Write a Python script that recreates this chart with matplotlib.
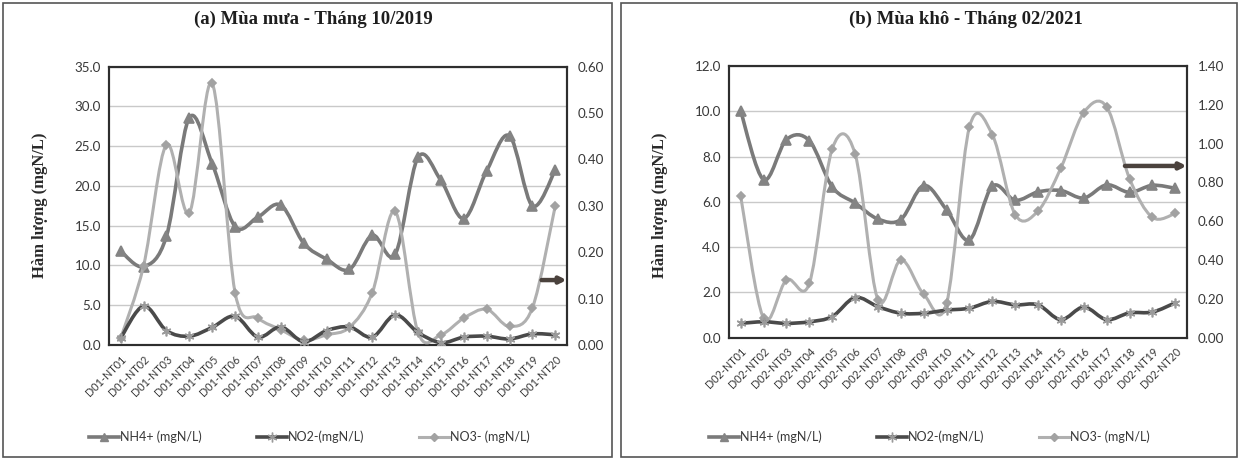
import matplotlib
matplotlib.use("Agg")
import matplotlib.pyplot as plt
from matplotlib.path import Path
from matplotlib.patches import PathPatch, Rectangle
from matplotlib.lines import Line2D
import numpy as np

# ---- data ----
stations_a = ["D01-NT%02d" % i for i in range(1, 21)]
stations_b = ["D02-NT%02d" % i for i in range(1, 21)]

# (a) rainy season, Oct 2019
nh4_a = [11.8, 9.85, 13.7, 28.6, 22.8, 14.9, 16.1, 17.6, 12.8, 10.8,
         9.5, 13.8, 11.4, 23.6, 20.7, 15.9, 21.9, 26.3, 17.5, 22.0]
no2_a = [0.015, 0.084, 0.031, 0.019, 0.038, 0.062, 0.017, 0.039, 0.007, 0.031,
         0.039, 0.017, 0.065, 0.027, 0.005, 0.017, 0.019, 0.013, 0.024, 0.022]
no3_a = [0.015, 0.171, 0.432, 0.285, 0.564, 0.113, 0.058, 0.033, 0.010, 0.022,
         0.038, 0.113, 0.288, 0.027, 0.022, 0.058, 0.077, 0.040, 0.080, 0.300]

# (b) dry season, Feb 2021
nh4_b = [10.0, 6.98, 8.75, 8.7, 6.66, 5.95, 5.24, 5.22, 6.72, 5.65,
         4.32, 6.69, 6.07, 6.44, 6.5, 6.17, 6.75, 6.42, 6.73, 6.6]
no2_b = [0.074, 0.082, 0.074, 0.082, 0.109, 0.207, 0.160, 0.126, 0.126, 0.142,
         0.152, 0.187, 0.169, 0.169, 0.093, 0.158, 0.093, 0.128, 0.132, 0.180]
no3_b = [0.728, 0.100, 0.298, 0.280, 0.973, 0.947, 0.195, 0.401, 0.224, 0.177,
         1.085, 1.047, 0.634, 0.653, 0.875, 1.160, 1.190, 0.820, 0.620, 0.640]

arrow_a = 0.14
arrow_b = 0.885

C_NH4 = "#7a7a7a"
C_NO2 = "#4a4a4a"
C_NO3 = "#b0b0b0"
TXT = "#383838"


def smooth_path(x, y):
    # excel-like smoothed line (catmull-rom as bezier)
    verts = [(x[0], y[0])]
    codes = [Path.MOVETO]
    n = len(x)
    for i in range(n - 1):
        x0, y0 = (x[i - 1], y[i - 1]) if i > 0 else (x[i], y[i])
        x3, y3 = (x[i + 2], y[i + 2]) if i + 2 < n else (x[i + 1], y[i + 1])
        c1 = (x[i] + (x[i + 1] - x0) / 6, y[i] + (y[i + 1] - y0) / 6)
        c2 = (x[i + 1] - (x3 - x[i]) / 6, y[i + 1] - (y3 - y[i]) / 6)
        verts += [c1, c2, (x[i + 1], y[i + 1])]
        codes += [Path.CURVE4] * 3
    return Path(verts, codes)


def series(ax, y, color, lw, marker, ms, mcolor, z):
    x = np.arange(len(y))
    ax.add_patch(PathPatch(smooth_path(x, y), fill=False, edgecolor=color,
                           lw=lw, zorder=z, capstyle="round", joinstyle="round"))
    ax.plot(x, y, linestyle="none", marker=marker, ms=ms, color=mcolor,
            mec=mcolor, mew=1.2, zorder=z + 0.1)


plt.rcParams["font.family"] = ["Lato", "DejaVu Sans"]
fig = plt.figure(figsize=(12.4, 4.62), dpi=100)

W, H = 1240.0, 462.0
panels = [
    dict(rect=(109.3, 66.7, 566.7, 345.0), labels=stations_a, nh4=nh4_a, no2=no2_a,
         no3=no3_a, lmax=35.0, lstep=5.0, rmax=0.60, rstep=0.10,
         title="(a) Mùa mưa - Tháng 10/2019", tx=313, ylx=40, arrow=arrow_a, ax0=18.4,
         border=(3, 3, 612, 457), legx=[89, 257, 419]),
    dict(rect=(729.3, 66.0, 1186.7, 337.7), labels=stations_b, nh4=nh4_b, no2=no2_b,
         no3=no3_b, lmax=12.0, lstep=2.0, rmax=1.40, rstep=0.20,
         title="(b) Mùa khô - Tháng 02/2021", tx=966, ylx=660, arrow=arrow_b, ax0=16.8,
         border=(621, 3, 1237, 457), legx=[709, 877, 1039]),
]

for p in panels:
    x0, y0, x1, y1 = p["rect"]
    ax = fig.add_axes([x0 / W, 1 - y1 / H, (x1 - x0) / W, (y1 - y0) / H])
    ax2 = ax.twinx()

    ax.set_xlim(-0.5, 19.5)
    ax.set_ylim(0, p["lmax"])
    ax2.set_ylim(0, p["rmax"])
    ax.set_yticks(np.arange(0, p["lmax"] + 1e-6, p["lstep"]))
    ax2.set_yticks(np.arange(0, p["rmax"] + 1e-6, p["rstep"]))
    ax.set_yticklabels(["%.1f" % v for v in ax.get_yticks()])
    ax2.set_yticklabels(["%.2f" % v for v in ax2.get_yticks()])
    ax.set_xticks(range(20))
    ax.set_xticklabels(p["labels"], rotation=45, ha="right", rotation_mode="anchor",
                       fontsize=7.8, color=TXT)
    ax.tick_params(axis="x", length=0, pad=6)
    ax.tick_params(axis="y", length=0, pad=6, labelsize=9.6, labelcolor=TXT)
    ax2.tick_params(axis="y", length=0, pad=8, labelsize=9.6, labelcolor=TXT)
    ax.grid(axis="y", color="#c9c9c9", lw=1.0)
    ax.set_axisbelow(True)
    for a in (ax, ax2):
        for s in a.spines.values():
            s.set_color("#2e2e2e")
            s.set_linewidth(1.5)

    series(ax, p["nh4"], C_NH4, 2.6, "^", 6.5, "#848484", 3)
    series(ax2, p["no3"], C_NO3, 2.2, "D", 4.2, "#a2a2a2", 4)
    series(ax2, p["no2"], C_NO2, 2.6, (6, 2, 0), 7, "#9a9a9a", 5)

    ax2.annotate("", xy=(19.5, p["arrow"]), xytext=(p["ax0"], p["arrow"]),
                 arrowprops=dict(arrowstyle="-|>", lw=3.2, color="#4b423d",
                                 mutation_scale=9, shrinkA=0, shrinkB=0), zorder=6)

    fig.text(p["tx"] / W, 1 - 19 / H, p["title"], ha="center", va="center",
             fontsize=13.5, fontweight="bold", family="Liberation Serif", color="#1e1e1e")
    fig.text(p["ylx"] / W, 1 - 205 / H, "Hàm lượng (mgN/L)", ha="center", va="center",
             rotation=90, fontsize=12, fontweight="bold", family="Liberation Serif",
             color="#2a2a2a")

    bx0, by0, bx1, by1 = p["border"]
    fig.patches.append(Rectangle((bx0 / W, 1 - by1 / H), (bx1 - bx0) / W, (by1 - by0) / H,
                                 transform=fig.transFigure, fill=False,
                                 edgecolor="#555555", lw=1.2))

    handles = [
        Line2D([], [], color=C_NH4, lw=2.6, marker="^", ms=6, mfc="#848484", mec="#848484"),
        Line2D([], [], color=C_NO2, lw=2.6, marker=(6, 2, 0), ms=7, mec="#9a9a9a"),
        Line2D([], [], color=C_NO3, lw=2.2, marker="D", ms=4, mfc="#a2a2a2", mec="#a2a2a2"),
    ]
    names = ["NH4+ (mgN/L)", "NO2-(mgN/L)", "NO3- (mgN/L)"]
    for h, n, lx in zip(handles, names, p["legx"]):
        fig.legend([h], [n], loc="center left", bbox_to_anchor=(lx / W, 1 - 437 / H),
                   frameon=False, fontsize=9, handlelength=2.4, handletextpad=0.1,
                   borderaxespad=0, borderpad=0, labelcolor=TXT)

fig.savefig("out.png", dpi=100, facecolor="white")
